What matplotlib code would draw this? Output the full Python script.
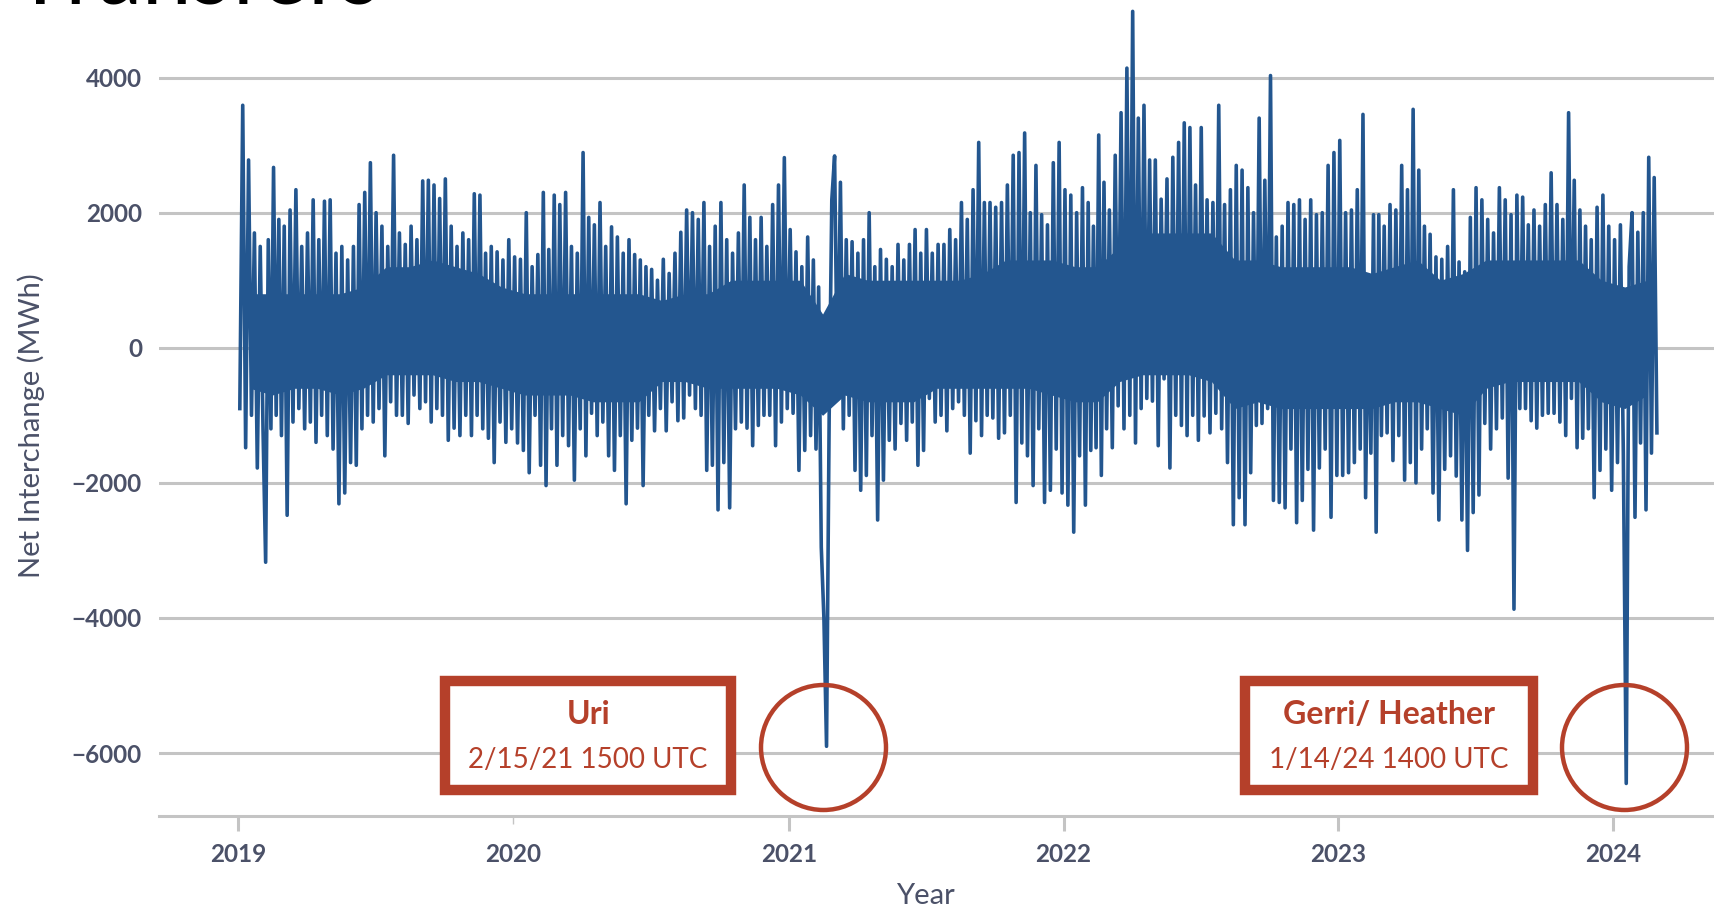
import matplotlib.pyplot as plt
import matplotlib.dates as mdates
from matplotlib.patches import Rectangle
import pandas as pd

# hourly net interchange, 8 readings per month (MWh)
mwh_2019 = [
    -900, 3590, -1480, 2780, -1000, 1700, -1780, 1500,
    -1200, -3175, 1600, -1200, 2670, -1000, 1900, -1300,
    1800, -2480, 2040, -1100, 2340, -900, 1500, -1200,
    1700, -1100, 2190, -1400, 1600, -1000, 2170, -1300,
    2190, -1500, 1400, -2310, 1500, -2150, 1300, -1700,
    1500, -1740, 2120, -1200, 2300, -1000, 2740, -1100,
    2000, -900, 1800, -1600, 1500, -800, 2850, -1000,
    1700, -1000, 1530, -1120, 1800, -700, 1600, -900,
    2470, -800, 2480, -1100, 2410, -900, 2210, -1000,
    2500, -1370, 1800, -1190, 1500, -1300, 1700, -1000,
    1600, -1300, 2280, -1000, 2260, -1200, 1400, -1340,
    1500, -1700, 1420, -1100, 1300, -1400, 1600, -1200,
]
mwh_2020 = [
    1345, -1410, 1310, -1520, 2000, -1850, 1200, -1000,
    1380, -1740, 2300, -2040, 1455, -1200, 2260, -1740,
    2120, -1300, 2300, -1450, 1500, -1960, 1400, -1200,
    2890, -1600, 1930, -970, 1820, -1300, 2150, -1100,
    1500, -1600, 1790, -1815, 1640, -1300, 1400, -2310,
    1600, -1370, 1380, -1190, 1300, -2040, 1200, -1000,
    1160, -1230, 1000, -900, 1310, -1230, 1100, -800,
    1400, -1080, 1710, -1040, 2040, -700, 2000, -900,
    1900, -1000, 2150, -1815, 1500, -1740, 1800, -2400,
    2150, -1700, 1600, -2370, 1400, -1200, 1700, -1100,
    2410, -1190, 1930, -1450, 1600, -1150, 1930, -1000,
    1500, -1000, 2120, -1450, 2410, -1100, 2815, -900,
]
mwh_2021 = [
    1750, -970, 1420, -1815, 1200, -1520, 1640, -1300,
    1300, -1500, 900, -2950, -4000, -5900, -1000, 2190,
    2840, -750, 2450, -1200, 1600, -1000, 1570, -1815,
    1400, -2110, 1600, -1890, 2000, -1300, 1200, -2550,
    1455, -1960, 1310, -1370, 1200, -1500, 1530, -1120,
    1300, -1370, 1530, -1100, 1750, -1740, 1400, -1520,
    1750, -750, 1400, -1100, 1530, -1000, 1530, -1230,
    1750, -900, 1600, -800, 2150, -1000, 1900, -1560,
    2340, -1080, 3040, -1300, 2150, -1000, 2150, -1040,
    2080, -1340, 2150, -1260, 2410, -1000, 2850, -2290,
    2890, -1410, 3180, -1600, 2000, -2040, 2700, -1200,
    1970, -2290, 1820, -2110, 2740, -1500, 3040, -2150,
]
mwh_2022 = [
    2340, -2330, 2260, -2730, 2000, -1600, 2370, -2330,
    2150, -1520, 1800, -1480, 3150, -1890, 2450, -1200,
    2040, -1480, 2850, -860, 3480, -1200, 4140, -1000,
    4980, -1410, 3400, -900, 3590, -750, 2780, -790,
    2780, -1450, 2200, -460, 2500, -1780, 2820, -1000,
    3040, -1150, 3330, -1300, 3260, -1000, 2410, -1370,
    3260, -1010, 2190, -1260, 2150, -970, 3590, -1200,
    2120, -1700, 2340, -2620, 2700, -2220, 2630, -2620,
    2370, -1850, 2000, -1150, 3400, -1120, 2480, -900,
    4030, -2260, 1640, -2290, 1800, -2370, 2150, -1500,
    2120, -2590, 2190, -2260, 1900, -1800, 2190, -2700,
    1970, -1780, 2000, -1500, 2700, -2510, 2890, -1890,
]
mwh_2023 = [
    3070, -1890, 2000, -1850, 2040, -1700, 2340, -1500,
    3455, -2220, 940, -1560, 1970, -2730, 1970, -1300,
    1800, -1260, 2120, -1670, 2040, -1300, 2700, -1960,
    2340, -1700, 3530, -2000, 2630, -1500, 1800, -1200,
    1680, -2150, 1345, -2550, 1310, -1800, 1500, -1600,
    2340, -1900, 1270, -2550, 1125, -3000, 1930, -2440,
    2370, -2180, 2190, -1120, 1900, -1500, 1700, -1200,
    2370, -1040, 2190, -1930, 1970, -3870, 2260, -900,
    2230, -900, 1820, -1080, 2040, -1190, 1800, -1000,
    2120, -970, 2590, -970, 2120, -1100, 1900, -1300,
    3480, -750, 2480, -1480, 2040, -1340, 1800, -1200,
    1600, -2220, 2080, -1815, 2260, -1500, 1800, -2110,
]
mwh_2024 = [
    1600, -1700, 1820, -1560, -6450, 1200, 2000, -2510,
    1710, -1410, 2000, -2400, 2820, -1560, 2520, -1260,
]

# dense core of the hourly band, one pair per month (MWh)
core_hi = [800, 800, 800, 800, 800, 900, 1200, 1200, 1300, 1200, 1100, 900,
           800, 800, 800, 800, 800, 800, 700, 800, 800, 1000, 1000, 1000,
           1000, 500, 1100, 1000, 1000, 1000, 1000, 1000, 1100, 1300, 1300, 1300,
           1200, 1200, 1500, 1700, 1700, 1700, 1700, 1300, 1300, 1200, 1200, 1200,
           1200, 1100, 1200, 1300, 1000, 1100, 1300, 1300, 1300, 1300, 1300, 1000,
           900, 1000]
core_lo = [-600, -700, -600, -600, -700, -600, -400, -400, -400, -500, -500, -600,
           -700, -700, -700, -800, -800, -800, -500, -500, -600, -600, -600, -600,
           -700, -1000, -700, -800, -800, -800, -600, -600, -600, -600, -600, -700,
           -800, -800, -500, -400, -400, -400, -500, -900, -800, -900, -900, -900,
           -900, -900, -800, -800, -900, -1000, -600, -500, -500, -500, -500, -800,
           -900, -700]

# winter storm annotations
event_names = ["Uri", "Gerri/ Heather"]
event_labels = ["2/15/21 1500 UTC", "1/14/24 1400 UTC"]
event_dates = ["2021-02-15", "2024-01-15"]
box_spans = [("2019-10-03", "2020-10-16"), ("2022-08-30", "2023-09-16")]

series = mwh_2019 + mwh_2020 + mwh_2021 + mwh_2022 + mwh_2023 + mwh_2024
months = pd.date_range("2019-01-01", periods=len(series) // 8, freq="MS")
dates = []
for m in months:
    for k in range(8):
        dates.append(m + pd.Timedelta(days=(k + 0.5) * m.days_in_month / 8))
mids = [m + pd.Timedelta(days=m.days_in_month / 2) for m in months]

blue = "#23568f"
red = "#b5402a"
grey = "#c4c4c4"
slate = "#4b5168"
plt.rcParams["font.family"] = ["Lato", "DejaVu Sans"]

fig = plt.figure(figsize=(17.14, 9.11), dpi=100)
ax = fig.add_axes([0.0925, 0.1048, 0.9075, 0.8916])

for v in range(-6000, 4001, 2000):
    ax.axhline(v, color=grey, lw=2.2, zorder=0)

ax.fill_between(mids, core_lo, core_hi, color=blue, lw=0, zorder=2)
ax.plot(dates, series, color=blue, lw=2.6, zorder=3)

for name, lab, d, (b0, b1) in zip(event_names, event_labels, event_dates, box_spans):
    ax.plot([pd.Timestamp(d)], [-5905], marker="o", ms=90, mfc="none",
            mec=red, mew=3.2, zorder=4)
    x0 = mdates.date2num(pd.Timestamp(b0))
    x1 = mdates.date2num(pd.Timestamp(b1))
    ax.add_patch(Rectangle((x0, -6543), x1 - x0, 1617, fc="white",
                           ec=red, lw=7.5, zorder=5))
    xc = (x0 + x1) / 2
    ax.text(xc, -5423, name, color=red, fontsize=23, fontweight="bold",
            ha="center", va="center", zorder=6)
    ax.text(xc, -6104, lab, color=red, fontsize=20, ha="center",
            va="center", zorder=6)

ax.set_xlim(pd.Timestamp("2018-09-17"), pd.Timestamp("2024-05-14"))
ax.set_ylim(-6925, 5100)
ax.set_yticks(range(-6000, 4001, 2000))
ax.xaxis.set_major_locator(mdates.YearLocator())
ax.xaxis.set_major_formatter(mdates.DateFormatter("%Y"))

for s in ["top", "right", "left"]:
    ax.spines[s].set_visible(False)
ax.spines["bottom"].set_color(grey)
ax.spines["bottom"].set_linewidth(2.2)
ax.tick_params(axis="y", length=0, pad=12, labelsize=17.5, labelcolor=slate)
ax.tick_params(axis="x", length=11, width=2.2, color=grey, pad=9,
               labelsize=17.5, labelcolor=slate)
for lbl in ax.get_xticklabels() + ax.get_yticklabels():
    lbl.set_fontweight("bold")
for t in ax.xaxis.get_major_ticks():
    if t.get_loc() == mdates.date2num(pd.Timestamp("2020-01-01")):
        t.tick1line.set_color("black")
        t.tick1line.set_markeredgewidth(1)
        t.tick1line.set_markersize(6)

ax.set_xlabel("Year", fontsize=21, color=slate)
ax.set_ylabel("Net Interchange (MWh)", fontsize=21, color=slate)
ax.xaxis.set_label_coords(0.4928, -0.083)
ax.yaxis.set_label_coords(-0.073, 0.48)

fig.text(0.008, 0.9956, "Transfers", fontsize=64, va="baseline", ha="left",
         color="black")

fig.savefig("out.png", dpi=100)
